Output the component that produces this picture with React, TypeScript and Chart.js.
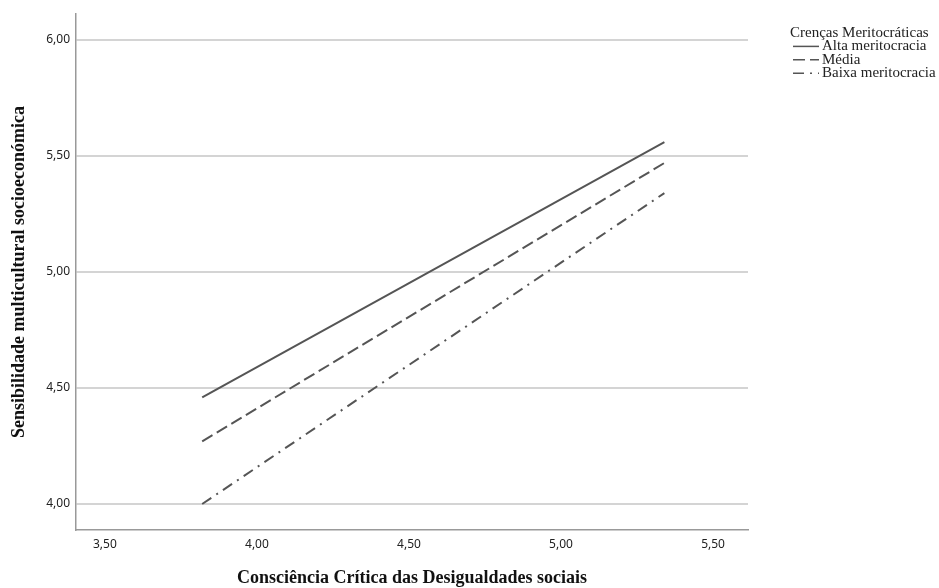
import React, { useEffect, useRef } from "react";
import { Chart, registerables } from "chart.js";

Chart.register(...registerables);

const xValues = [3.82, 5.34];
const altaValues = [4.46, 5.56];
const mediaValues = [4.27, 5.47];
const baixaValues = [4.0, 5.34];
const seriesLabels = ["Alta meritocracia", "Média", "Baixa meritocracia"];
const legendTitle = "Crenças Meritocráticas";
const xTicks = [3.5, 4.0, 4.5, 5.0, 5.5];
const yTicks = [4.0, 4.5, 5.0, 5.5, 6.0];
const xTitle = "Consciência Crítica das Desigualdades sociais";
const yTitle = "Sensibilidade multicultural socioeconómica";

const fmt = (v: number) => v.toFixed(2).replace(".", ",");

const legendPlugin = {
  id: "customLegend",
  afterDraw(chart: any) {
    const ctx = chart.ctx;
    ctx.save();
    const x0 = 790;
    let y = 33;
    ctx.fillStyle = "#222";
    ctx.font = "15px 'Liberation Serif', serif";
    ctx.textBaseline = "middle";
    ctx.textAlign = "left";
    ctx.fillText(legendTitle, x0, y);
    chart.data.datasets.forEach((ds: any) => {
      y += 13.4;
      ctx.beginPath();
      ctx.strokeStyle = ds.borderColor;
      ctx.lineWidth = 1.5;
      ctx.setLineDash(ds.borderDash || []);
      ctx.moveTo(x0 + 3, y);
      ctx.lineTo(x0 + 29, y);
      ctx.stroke();
      ctx.setLineDash([]);
      ctx.fillText(ds.label, x0 + 32, y);
    });
    ctx.restore();
  },
};

export default function App() {
  const ref = useRef<HTMLCanvasElement | null>(null);
  useEffect(() => {
    document.body.style.margin = "0";
    const mk = (vals: number[]) => xValues.map((x, i) => ({ x, y: vals[i] }));
    const lineColor = "#555555";
    const chart = new Chart(ref.current as HTMLCanvasElement, {
      type: "line",
      data: {
        datasets: [
          { label: seriesLabels[0], data: mk(altaValues), borderColor: lineColor, borderWidth: 2, borderDash: [], pointRadius: 0 },
          { label: seriesLabels[1], data: mk(mediaValues), borderColor: lineColor, borderWidth: 2, borderDash: [12, 5], pointRadius: 0 },
          { label: seriesLabels[2], data: mk(baixaValues), borderColor: lineColor, borderWidth: 2, borderDash: [11, 6, 2, 6], pointRadius: 0 },
        ],
      },
      options: {
        animation: false,
        responsive: false,
        layout: { padding: { top: 14, right: 191, left: 5, bottom: 0 } },
        plugins: { legend: { display: false }, tooltip: { enabled: false } },
        scales: {
          x: {
            type: "linear",
            min: 3.405,
            max: 5.615,
            afterBuildTicks: (s: any) => { s.ticks = xTicks.map((v) => ({ value: v })); },
            afterFit: (s: any) => { s.height = 58; },
            grid: { display: false, drawTicks: false },
            border: { display: true, color: "#999999", width: 1.5 },
            ticks: { padding: 7, color: "#222", font: { family: "'Noto Sans', sans-serif", size: 12 }, callback: (v: any) => fmt(Number(v)), maxRotation: 0 },
            title: { display: true, text: xTitle, color: "#111", font: { family: "'Liberation Serif', serif", size: 18, weight: "bold" }, padding: { top: 14, bottom: -1 } },
          },
          y: {
            type: "linear",
            min: 3.888,
            max: 6.112,
            afterBuildTicks: (s: any) => { s.ticks = yTicks.map((v) => ({ value: v })); },
            afterFit: (s: any) => { s.width = 71; },
            grid: { display: true, drawTicks: false, color: "#d4d4d4", lineWidth: 2 },
            border: { display: true, color: "#999999", width: 1.5 },
            ticks: { padding: 6, color: "#222", font: { family: "'Noto Sans', sans-serif", size: 12 }, callback: (v: any) => fmt(Number(v)) },
            title: { display: true, text: yTitle, color: "#111", font: { family: "'Liberation Serif', serif", size: 18, weight: "bold" }, padding: { bottom: 8 } },
          },
        },
      },
      plugins: [legendPlugin],
    } as any);
    return () => chart.destroy();
  }, []);
  return (
    <div style={{ width: 939, height: 588 }}>
      <canvas ref={ref} width={939} height={588} style={{ display: "block" }} />
    </div>
  );
}
